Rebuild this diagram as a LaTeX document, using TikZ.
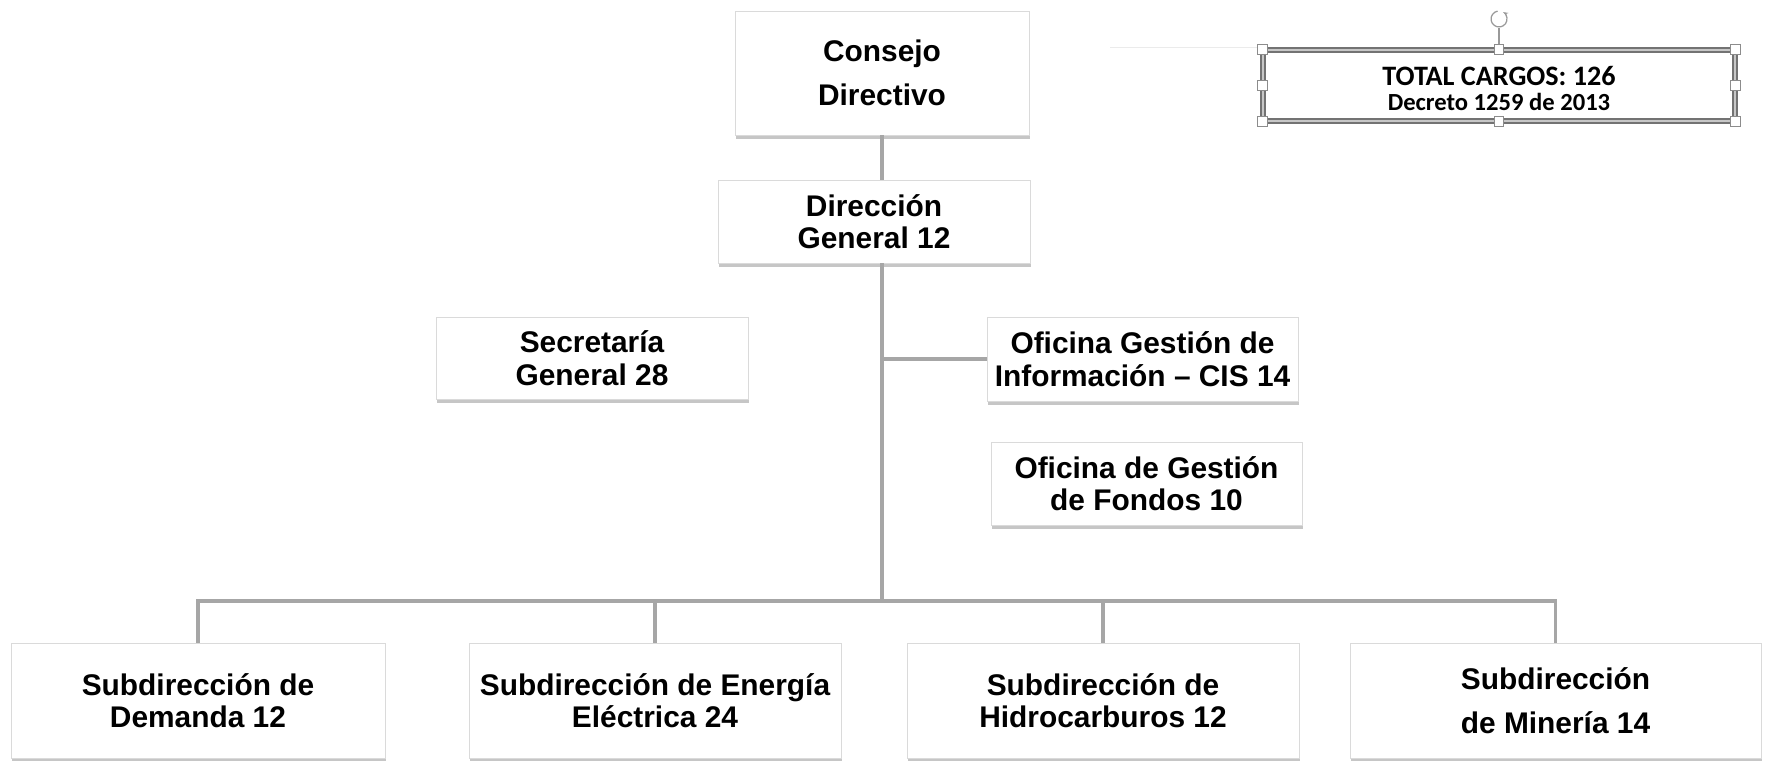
\documentclass[tikz,border=0pt]{standalone}
\usepackage{fontspec}
\setmainfont{Liberation Sans}
\newfontfamily\calib{Carlito}
\usetikzlibrary{positioning,shadows,arrows.meta,calc}
\definecolor{wire}{HTML}{A6A6A6}
\definecolor{frame}{HTML}{DADADA}
\tikzset{
  unit/.style={draw=frame, fill=white, align=center, inner sep=2pt,
    drop shadow={shadow xshift=0.8pt, shadow yshift=-2.4pt, opacity=0.45},
    font=\fontsize{17}{18.5}\selectfont\bfseries},
  unitloose/.style={unit, font=\fontsize{17}{25}\selectfont\bfseries},
  link/.style={draw=wire, line width=1.9pt},
  ghost/.style={draw=black!8, line width=1pt},
  tot/.style={draw=black!55, double=black!22, double distance=1.6pt, line width=0.7pt},
  totext/.style={align=center, inner sep=0pt, font=\calib\bfseries\fontsize{15}{14.2}\selectfont},
  handle/.style={rectangle, draw=black!45, fill=white, minimum size=5.5pt, inner sep=0pt, line width=0.6pt},
  grip/.style={draw=black!40, line width=0.7pt},
}

\begin{document}
\begin{tikzpicture}
        \useasboundingbox (0,0) rectangle (35.34,15.22);
        % upper levels
        \node[unitloose, minimum width=5.88cm, minimum height=2.48cm] (cons) at (17.64,13.76) {Consejo\\Directivo};
        \node[unit, minimum width=6.24cm, minimum height=1.66cm] (dir)  at (17.48,10.79) {Dirección\\General 12};
        \node[unit, minimum width=6.24cm, minimum height=1.64cm] (sec)  at (11.84,8.06)  {Secretaría\\General 28};
        \node[unit, minimum width=6.22cm, minimum height=1.68cm] (info) at (22.85,8.04)  {Oficina Gestión de\\Información -- CIS 14};
        \node[unit, minimum width=6.22cm, minimum height=1.66cm] (fond) at (22.93,5.55)  {Oficina de Gestión\\de Fondos 10};
        % subdirecciones
        \node[unit, minimum width=7.48cm, minimum height=2.30cm] (dem) at (3.96,1.21)  {Subdirección de\\Demanda 12};
        \node[unit, minimum width=7.44cm, minimum height=2.30cm] (ene) at (13.10,1.21) {Subdirección de Energía\\Eléctrica 24};
        \node[unit, minimum width=7.84cm, minimum height=2.30cm] (hid) at (22.06,1.21) {Subdirección de\\Hidrocarburos 12};
        \node[unitloose, minimum width=8.22cm, minimum height=2.30cm] (min) at (31.11,1.21) {Subdirección\\de Minería 14};
        \coordinate (trunk) at (17.64,3.20);
        \draw[link] (cons.south) -- (cons.south |- dir.north);
        \draw[link] (dir.south -| trunk) -- (trunk);
        \draw[link] (trunk |- info.west) -- (info.west);
        \draw[link] (dem.north) |- (trunk) -| (min.north);
        \draw[link] (ene.north) -- (ene.north |- trunk);
        \draw[link] (hid.north) -- (hid.north |- trunk);
        % total box, still selected
        \node[tot, minimum width=9.44cm, minimum height=1.42cm] (total) at (29.98,13.51) {};
        \node[totext] (totlab) at ($(total.center)+(0,-0.06)$)
          {{\fontsize{16}{14.2}\selectfont TOTAL CARGOS: 126}\\{\fontsize{14}{14.2}\selectfont Decreto 1259 de 2013}};
        \foreach \a/\n in {north west/nw, north/n, north east/ne, west/w, east/e, south west/sw, south/s, south east/se}
          \node[handle] (h\n) at (total.\a) {};
        \node[circle, minimum size=0.34cm, inner sep=0pt] (rot) at (29.98,14.84) {};
        \draw[grip, -{Stealth[length=3pt]}] ($(rot)+(100:0.16)$) arc[start angle=100, end angle=420, radius=0.16];
        \draw[grip] (hn) -- (rot);
        \coordinate (faint) at (22.2,14.27);
        \draw[ghost] (faint) -- (faint -| hnw.west);
      \end{tikzpicture}
\end{document}
